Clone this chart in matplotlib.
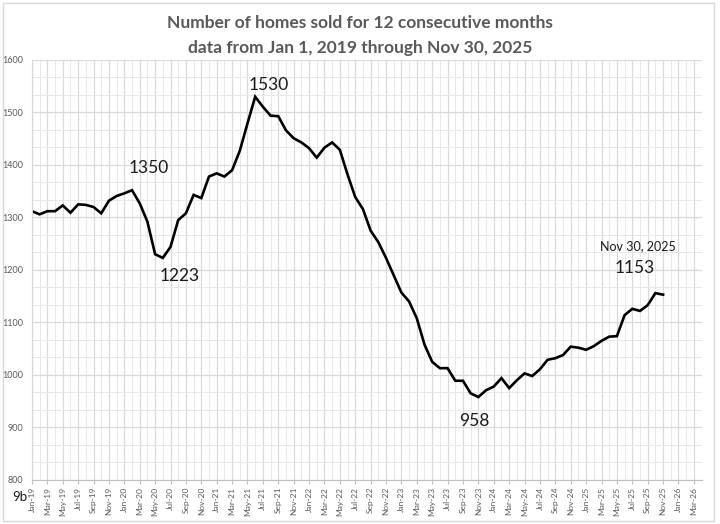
import matplotlib.pyplot as plt
from matplotlib.patches import Rectangle
from matplotlib.ticker import MultipleLocator
import numpy as np

plt.rcParams['font.family'] = ['Lato', 'DejaVu Sans']

# 12-month rolling number of homes sold, monthly from Jan 2019 to Nov 2025
homes_sold = [
    1312, 1306, 1312, 1312, 1323, 1309, 1325, 1324, 1320, 1308, 1332, 1341,  # 2019
    1346, 1352, 1327, 1292, 1230, 1223, 1244, 1295, 1308, 1343, 1337, 1378,  # 2020
    1384, 1378, 1390, 1427, 1479, 1530, 1511, 1494, 1493, 1466, 1451, 1443,  # 2021
    1432, 1414, 1433, 1443, 1429, 1382, 1339, 1316, 1275, 1253, 1223, 1190,  # 2022
    1157, 1140, 1108, 1058, 1025, 1013, 1013, 989, 989, 965, 958, 971,       # 2023
    978, 994, 975, 990, 1003, 998, 1011, 1029, 1032, 1038, 1054, 1052,       # 2024
    1048, 1055, 1065, 1073, 1074, 1114, 1126, 1122, 1133, 1156, 1153,        # 2025
]
months = np.arange(len(homes_sold))

month_names = ["Jan", "Feb", "Mar", "Apr", "May", "Jun",
               "Jul", "Aug", "Sep", "Oct", "Nov", "Dec"]
tick_pos = np.arange(0, 87, 2)
tick_labels = [f"{month_names[m % 12]}-{19 + m // 12}" for m in tick_pos]

# point index, label text, pixel offset of the label
callouts = [
    (13, "1350", (17, 22)),
    (17, "1223", (17, -18)),
    (29, "1530", (14, 12)),
    (58, "958", (-4, -24)),
    (82, "1153", (-28, 27)),
]

fig = plt.figure(figsize=(7.2, 5.24), dpi=100)
ax = fig.add_axes([0.0444, 0.084, 0.93, 0.8015])

ax.plot(months, homes_sold, color="black", lw=1.9, solid_joinstyle="miter")

ax.set_xlim(0, 87)
ax.set_ylim(800, 1600)
ax.set_xticks(tick_pos)
ax.set_xticklabels(tick_labels, rotation=90, fontsize=6, color="#595959")
ax.xaxis.set_minor_locator(MultipleLocator(1))
ax.yaxis.set_major_locator(MultipleLocator(100))
ax.yaxis.set_minor_locator(MultipleLocator(100 / 3))
ax.tick_params(axis="y", labelsize=6.5, labelcolor="#595959", length=0, pad=6)
ax.tick_params(axis="x", length=3, color="#bfbfbf", pad=2)
ax.tick_params(which="minor", length=0)

ax.grid(which="major", color="#d9d9d9", lw=0.9)
ax.grid(which="minor", color="#e8e8e8", lw=0.7)
ax.set_axisbelow(True)
for side in ["top", "right"]:
    ax.spines[side].set_visible(False)
ax.spines["left"].set_color("#d9d9d9")
ax.spines["bottom"].set_color("#bfbfbf")

for i, text, off in callouts:
    ax.annotate(text, xy=(months[i], homes_sold[i]), xytext=off,
                textcoords="offset pixels", ha="center", va="center",
                fontsize=12.5, color="#1a1a1a")
ax.annotate("Nov 30, 2025", xy=(months[-1], homes_sold[-1]), xytext=(-25, 49),
            textcoords="offset pixels", ha="center", va="center",
            fontsize=9, color="#1a1a1a")

fig.text(0.5, 0.957, "Number of homes sold for 12 consecutive months",
         ha="center", va="center", fontsize=12.5, fontweight="bold", color="#595959")
fig.text(0.5, 0.909, "data from Jan 1, 2019 through Nov 30, 2025",
         ha="center", va="center", fontsize=12.5, fontweight="bold", color="#595959")
fig.text(0.017, 0.052, "9b", fontsize=9.5, color="#1a1a1a", va="center")

fig.patches.append(Rectangle((0.004, 0.006), 0.988, 0.988, transform=fig.transFigure,
                             fill=False, edgecolor="#d9d9d9", lw=1))

fig.savefig("out.png", dpi=100)
